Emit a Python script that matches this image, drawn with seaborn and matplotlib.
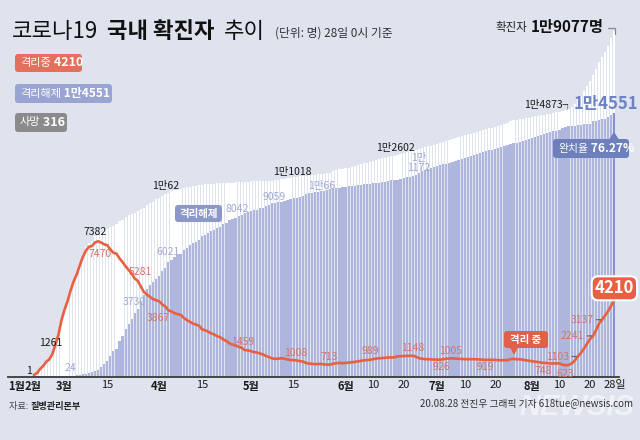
import matplotlib
matplotlib.use("Agg")
import matplotlib.pyplot as plt
from matplotlib.patches import FancyBboxPatch, Polygon
from matplotlib.transforms import IdentityTransform
from matplotlib.lines import Line2D
import numpy as np
import pandas as pd
import seaborn as sns

# ---------------- data (0시 기준, 2020-02-20 ~ 2020-08-28) ----------------
conf_feb = [104, 204, 433, 602, 833, 977, 1261, 1766, 2337, 3150]
conf_mar = [3736, 4212, 4812, 5328, 5766, 6284, 6767, 7134, 7382, 7513, 7755, 7869, 7979, 8086, 8162, 8236,
            8320, 8413, 8565, 8652, 8799, 8897, 8961, 9037, 9137, 9241, 9332, 9478, 9583, 9661, 9786]
conf_apr = [9887, 9976, 10062, 10156, 10237, 10284, 10331, 10384, 10423, 10450, 10480, 10512, 10537, 10564,
            10591, 10613, 10635, 10653, 10661, 10674, 10683, 10694, 10702, 10708, 10718, 10728, 10738, 10752,
            10761, 10765]
conf_may = [10774, 10780, 10793, 10801, 10804, 10806, 10810, 10822, 10840, 10874, 10909, 10936, 10962, 10991,
            11018, 11037, 11050, 11065, 11078, 11110, 11122, 11142, 11165, 11190, 11206, 11225, 11265, 11344,
            11402, 11441, 11468]
conf_jun = [11503, 11541, 11590, 11629, 11668, 11719, 11776, 11814, 11852, 11902, 11947, 12003, 12051, 12085,
            12121, 12155, 12198, 12257, 12306, 12373, 12421, 12438, 12484, 12535, 12563, 12602, 12653, 12715,
            12757, 12800]
conf_jul = [12850, 12904, 12967, 13030, 13091, 13137, 13181, 13244, 13293, 13338, 13373, 13417, 13479, 13512,
            13551, 13612, 13672, 13711, 13745, 13771, 13816, 13879, 13938, 13979, 14092, 14150, 14175, 14203,
            14251, 14269, 14305]
conf_aug = [14336, 14366, 14389, 14423, 14456, 14499, 14519, 14562, 14598, 14626, 14660, 14714, 14770, 14873,
            15039, 15318, 15515, 15761, 16058, 16346, 16670, 17002, 17399, 17665, 17945, 18265, 18706, 19077]

rel_feb = [16, 16, 16, 18, 18, 22, 22, 22, 22, 27]
rel_mar = [30, 30, 34, 41, 88, 108, 118, 130, 166, 247, 288, 333, 510, 714, 834, 1137, 1407, 1540, 1947, 2233,
           2612, 2909, 3166, 3507, 3730, 4144, 4528, 4811, 5033, 5228, 5408]
rel_apr = [5567, 5828, 6021, 6325, 6463, 6598, 6694, 6776, 6973, 7117, 7243, 7368, 7447, 7534, 7757, 7829,
           7937, 8042, 8114, 8213, 8277, 8411, 8501, 8635, 8717, 8764, 8854, 8922, 9059, 9072]
rel_may = [9123, 9183, 9217, 9283, 9333, 9419, 9484, 9568, 9610, 9632, 9645, 9695, 9762, 9821, 9851, 9888,
           9938, 9972, 10066, 10134, 10162, 10194, 10213, 10226, 10275, 10295, 10340, 10363, 10398, 10422, 10467]
rel_jun = [10483, 10506, 10531, 10552, 10563, 10589, 10611, 10634, 10654, 10669, 10682, 10718, 10756, 10771,
           10790, 10829, 10856, 10867, 10905, 10963, 11007, 11018, 11056, 11158, 11266, 11340, 11409, 11481,
           11530, 11580]
rel_jul = [11638, 11696, 11726, 11767, 11812, 11847, 11906, 11984, 12043, 12091, 12130, 12169, 12232, 12271,
           12322, 12393, 12462, 12493, 12531, 12566, 12616, 12688, 12735, 12786, 12834, 12875, 12926, 12949,
           13026, 13068, 13134]
rel_aug = [13190, 13245, 13288, 13354, 13406, 13452, 13504, 13537, 13573, 13598, 13706, 13787, 13825, 13848,
           13864, 13910, 13920, 13926, 13946, 13973, 14122, 14133, 14150, 14219, 14248, 14329, 14464, 14551]

iso_feb = [87, 186, 413, 578, 807, 947, 1227, 1731, 2302, 3106]
iso_mar = [3689, 4165, 4750, 5255, 5643, 6134, 6604, 6954, 7165, 7212, 7407, 7470, 7402, 7300, 7253, 7024,
           6838, 6789, 6527, 6325, 6085, 5884, 5684, 5410, 5281, 4966, 4665, 4523, 4398, 4275, 4216]
iso_apr = [4155, 3979, 3867, 3654, 3591, 3500, 3445, 3408, 3246, 3125, 3026, 2930, 2873, 2808, 2604, 2559,
           2476, 2385, 2324, 2224, 2169, 2043, 1961, 1833, 1757, 1720, 1640, 1586, 1459, 1446]
iso_may = [1401, 1347, 1326, 1266, 1217, 1132, 1070, 998, 974, 986, 1008, 983, 941, 910, 907, 887, 850, 830,
           749, 713, 696, 684, 686, 698, 664, 661, 656, 712, 735, 750, 731]
iso_jun = [749, 763, 786, 804, 832, 857, 892, 907, 924, 957, 989, 1008, 1018, 1037, 1054, 1049, 1064, 1111,
           1121, 1130, 1134, 1140, 1148, 1096, 1015, 980, 962, 952, 945, 938]
iso_jul = [930, 926, 958, 980, 995, 1005, 990, 975, 965, 960, 956, 960, 958, 952, 940, 930, 919, 925, 920, 910,
           905, 895, 906, 895, 960, 976, 950, 955, 925, 900, 870]
iso_aug = [845, 820, 800, 768, 748, 745, 713, 723, 721, 724, 650, 623, 640, 720, 870, 1103, 1290, 1530, 1806,
           2066, 2241, 2560, 2940, 3137, 3387, 3624, 3929, 4210]

total_confirmed = "1만9077명"
total_isolated = "4210"
total_released = "1만4551"
total_deaths = "316"
recovery_rate = "76.27%"

# tick labels
tick_dates = ["2020-03-01", "2020-03-15", "2020-04-01", "2020-04-15", "2020-05-01", "2020-05-15",
              "2020-06-01", "2020-06-10", "2020-06-20", "2020-07-01", "2020-07-10", "2020-07-20",
              "2020-08-01", "2020-08-10", "2020-08-20", "2020-08-28"]
tick_texts = ["3월", "15", "4월", "15", "5월", "15", "6월", "10", "20", "7월", "10", "20", "8월", "10", "20", "28일"]

# ---------------- frame ----------------
dates = pd.date_range("2020-02-20", "2020-08-28", freq="D")
day = (dates - pd.Timestamp("2020-03-01")).days
df = pd.DataFrame({
    "day": day,
    "confirmed": conf_feb + conf_mar + conf_apr + conf_may + conf_jun + conf_jul + conf_aug,
    "released": rel_feb + rel_mar + rel_apr + rel_may + rel_jun + rel_jul + rel_aug,
    "isolated": iso_feb + iso_mar + iso_apr + iso_may + iso_jun + iso_jul + iso_aug,
})
df["kind"] = ["past"] * (len(df) - 1) + ["today"]

sns.set_style("white")
KR = ["Noto Sans CJK KR", "DejaVu Sans"]
NR = ["Liberation Sans Narrow", "Noto Sans CJK KR", "DejaVu Sans"]
plt.rcParams["font.family"] = KR

W, H = 640, 440
BG = "#dfe3ee"
RED = "#e8603f"
LAV = "#aeb6de"
fig = plt.figure(figsize=(6.4, 4.4), dpi=100)
fig.patch.set_facecolor(BG)

X0, SX = 64.5, 3.055      # pixel position of day 0 and pixels per day
Y0, SY = 376.5, 0.0181    # baseline pixel and pixels per person


def dx(px):
    return (px - X0) / SX


def vy(py):
    return (Y0 - py) / SY


ax = fig.add_axes([8 / W, (H - Y0) / H, (619 - 8) / W, (Y0 - 18) / H])
ax.set_facecolor(BG)

sns.barplot(data=df, x="day", y="confirmed", native_scale=True, color="white", saturation=1,
            width=0.72, linewidth=0, errorbar=None, ax=ax, zorder=1)
sns.barplot(data=df, x="day", y="released", hue="kind", palette={"past": LAV, "today": "#8593cb"},
            native_scale=True, dodge=False, saturation=1, width=0.72, linewidth=0, errorbar=None,
            legend=False, ax=ax, zorder=2)
sns.lineplot(data=df, x="day", y="isolated", color=RED, linewidth=1.9, errorbar=None, ax=ax, zorder=4)

ax.set_xlim(dx(8), dx(619))
ax.set_ylim(0, vy(18))
ax.set_xlabel("")
ax.set_ylabel("")
ax.set_yticks([])
for s in ["left", "top", "right"]:
    ax.spines[s].set_visible(False)
ax.spines["bottom"].set_color("#3a3a3a")
ax.spines["bottom"].set_linewidth(1.3)
ax.spines["bottom"].set_zorder(6)

# x ticks
tpos = [dx(17), dx(33)] + [(pd.Timestamp(d) - pd.Timestamp("2020-03-01")).days for d in tick_dates]
tlab = ["1월", "2월"] + tick_texts
ax.set_xticks(tpos)
ax.set_xticklabels(tlab)
ax.tick_params(axis="x", length=0, pad=2.5)
for t in ax.get_xticklabels():
    t.set_fontfamily(NR)
    t.set_fontsize(8)
    t.set_color("#1a1a1a")
    t.set_zorder(20)
    if t.get_text().endswith("월"):
        t.set_fontweight("bold")

# ---------------- value labels ----------------
black_labels = [("1", 29, 371), ("1261", 51, 343), ("7382", 95, 232), ("1만62", 166, 186),
                ("1만1018", 292, 172), ("1만2602", 395, 148)]
lav_labels = [("24", 70, 368), ("3730", 134, 302), ("6021", 168, 252), ("8042", 237, 209),
              ("9059", 274, 197), ("1만66", 322, 186), ("1만\n1172", 419, 163)]
red_labels = [("7470", 100, 254), ("5281", 140, 272), ("3867", 158, 318), ("1459", 243, 342),
              ("1008", 296, 353), ("713", 329, 357), ("989", 370, 351), ("1148", 413, 348),
              ("926", 441, 367), ("1005", 451, 351), ("919", 485, 367), ("748", 543, 371), ("623", 565, 374)]
for txt, x, y in black_labels:
    ax.text(dx(x), vy(y), txt, ha="center", va="center", fontsize=7.5, family=NR, color="#1a1a1a", zorder=7)
for txt, x, y in lav_labels:
    ax.text(dx(x), vy(y), txt, ha="center", va="center", fontsize=7.5, family=NR, color="#a1a8d2",
            zorder=7, linespacing=0.95)
for txt, x, y in red_labels:
    ax.text(dx(x), vy(y), txt, ha="center", va="center", fontsize=7.5, family=NR, color="#d27367", zorder=7)

# leader labels on the recent surge
for txt, date in [("1103", "2020-08-16"), ("2241", "2020-08-21"), ("3137", "2020-08-24")]:
    row = df[df["day"] == (pd.Timestamp(date) - pd.Timestamp("2020-03-01")).days].iloc[0]
    ax.annotate(txt, xy=(row["day"], row["isolated"]), xytext=(-9, 0), textcoords="offset pixels",
                ha="right", va="center", fontsize=7.5, family=NR, color="#d27367", zorder=7,
                arrowprops=dict(arrowstyle="-", color="#666666", lw=0.9, shrinkA=0, shrinkB=1))

last = df.iloc[-1]
ax.annotate(total_isolated, xy=(last["day"], last["isolated"]), xytext=(0, 12), textcoords="offset pixels",
            ha="center", va="center", fontsize=12, fontweight="bold", family=NR, color="white", zorder=8,
            bbox=dict(boxstyle="round,pad=0.18,rounding_size=0.4", fc=RED, ec="white", lw=1.5))
ax.annotate(total_released, xy=(last["day"], last["released"]), xytext=(-9, 9), textcoords="offset pixels",
            ha="center", va="center", fontsize=12, fontweight="bold", family=NR, color="#6f82c6", zorder=8)
row14 = df[df["day"] == (pd.Timestamp("2020-08-14") - pd.Timestamp("2020-03-01")).days].iloc[0]
ax.annotate("1만4873┐", xy=(row14["day"], row14["confirmed"]), xytext=(1, 3), textcoords="offset pixels",
            ha="right", va="center", fontsize=7.5, family=NR, color="#1a1a1a", zorder=8)

# ---------------- figure-level helpers ----------------
ident = IdentityTransform()
renderer = fig.canvas.get_renderer()


def pbox(x0, y0, x1, y1, color, r=3.0, ec="none", lw=0):
    p = FancyBboxPatch((x0, H - y1), x1 - x0, y1 - y0,
                       boxstyle=f"round,pad=0,rounding_size={r}", transform=ident,
                       fc=color, ec=ec, lw=lw, zorder=10)
    fig.patches.append(p)


def tri(points, color):
    p = Polygon([(x, H - y) for x, y in points], closed=True, transform=ident, fc=color, ec="none", zorder=10)
    fig.patches.append(p)


def seq(x, y, pieces, gap=0):
    for txt, props in pieces:
        t = fig.text(x / W, 1 - y / H, txt, ha="left", va="center", zorder=11, **props)
        x += t.get_window_extent(renderer).width + gap
    return x


# watermark (drawn first, under footer text)
fig.text(577 / W, 1 - 407 / H, "NEWSIS", ha="center", va="center", fontsize=21, fontweight="bold",
         style="italic", family=["Liberation Sans", "DejaVu Sans"], color="white", alpha=0.55, zorder=3)

# title
x = seq(12, 31, [("코로나19", dict(fontsize=16, family=KR, color="#111111"))])
x = seq(x + 9, 31, [("국내 확진자", dict(fontsize=16, family=KR, fontweight="bold", color="#111111"))])
x = seq(x + 9, 31, [("추이", dict(fontsize=16, family=KR, color="#111111"))])
seq(x + 10, 33, [("(단위: 명) 28일 0시 기준", dict(fontsize=8.5, family=KR, color="#333333"))])

# top right total
fig.text(604 / W, 1 - 27 / H, total_confirmed, ha="right", va="center", fontsize=11, fontweight="bold",
         family=NR, color="#111111", zorder=11)
tw = fig.texts[-1].get_window_extent(renderer).width
fig.text((604 - tw - 4) / W, 1 - 27 / H, "확진자", ha="right", va="center", fontsize=8.3, family=KR,
         color="#222222", zorder=11)
fig.lines.append(Line2D([608, 615, 615], [H - 28, H - 28, H - 34], transform=ident, color="#888888", lw=0.9))

# legend boxes
pbox(15, 54, 82, 72, "#e2705c")
seq(20, 63, [("격리중", dict(fontsize=8, family=KR, color="white")),
             (" " + total_isolated, dict(fontsize=9, family=NR, fontweight="bold", color="white"))])
pbox(15, 84, 112, 103, "#9aa4d3")
seq(20, 93.5, [("격리해제", dict(fontsize=8, family=KR, color="white")),
               (" " + total_released, dict(fontsize=8.6, family=NR, fontweight="bold", color="white"))])
pbox(15, 113, 67, 132, "#8b8b8b")
seq(20, 122.5, [("사망", dict(fontsize=8, family=KR, color="white")),
                (" " + total_deaths, dict(fontsize=9, family=NR, fontweight="bold", color="white"))])

# inline series tags
pbox(175, 205, 222, 222, "#8d98ca")
fig.text(198.5 / W, 1 - 213.5 / H, "격리해제", ha="center", va="center", fontsize=7.5, fontweight="bold",
         family=KR, color="white", zorder=11)
pbox(504, 331, 548, 348, "#e0604a")
tri([(510, 347.5), (518, 347.5), (514, 355)], "#e0604a")
fig.text(526 / W, 1 - 339.5 / H, "격리 중", ha="center", va="center", fontsize=7.5, fontweight="bold",
         family=KR, color="white", zorder=11)

# recovery rate box
pbox(553, 139, 629, 158, "#6d80bb")
tri([(609, 139.5), (619, 139.5), (614, 132)], "#6d80bb")
seq(558, 148.5, [("완치율", dict(fontsize=7.8, family=KR, color="white")),
                 (" " + recovery_rate, dict(fontsize=8.6, family=NR, fontweight="bold", color="white"))])

# footer
seq(9, 406, [("자료: ", dict(fontsize=6.6, family=KR, color="#444444")),
             ("질병관리본부", dict(fontsize=6.6, family=KR, fontweight="bold", color="#222222"))])
fig.text(633 / W, 1 - 403 / H, "20.08.28 전진우 그래픽 기자 618tue@newsis.com", ha="right", va="center",
         fontsize=7, family=NR, color="#333333", zorder=11)

fig.savefig("out.png", dpi=100, facecolor=BG)
